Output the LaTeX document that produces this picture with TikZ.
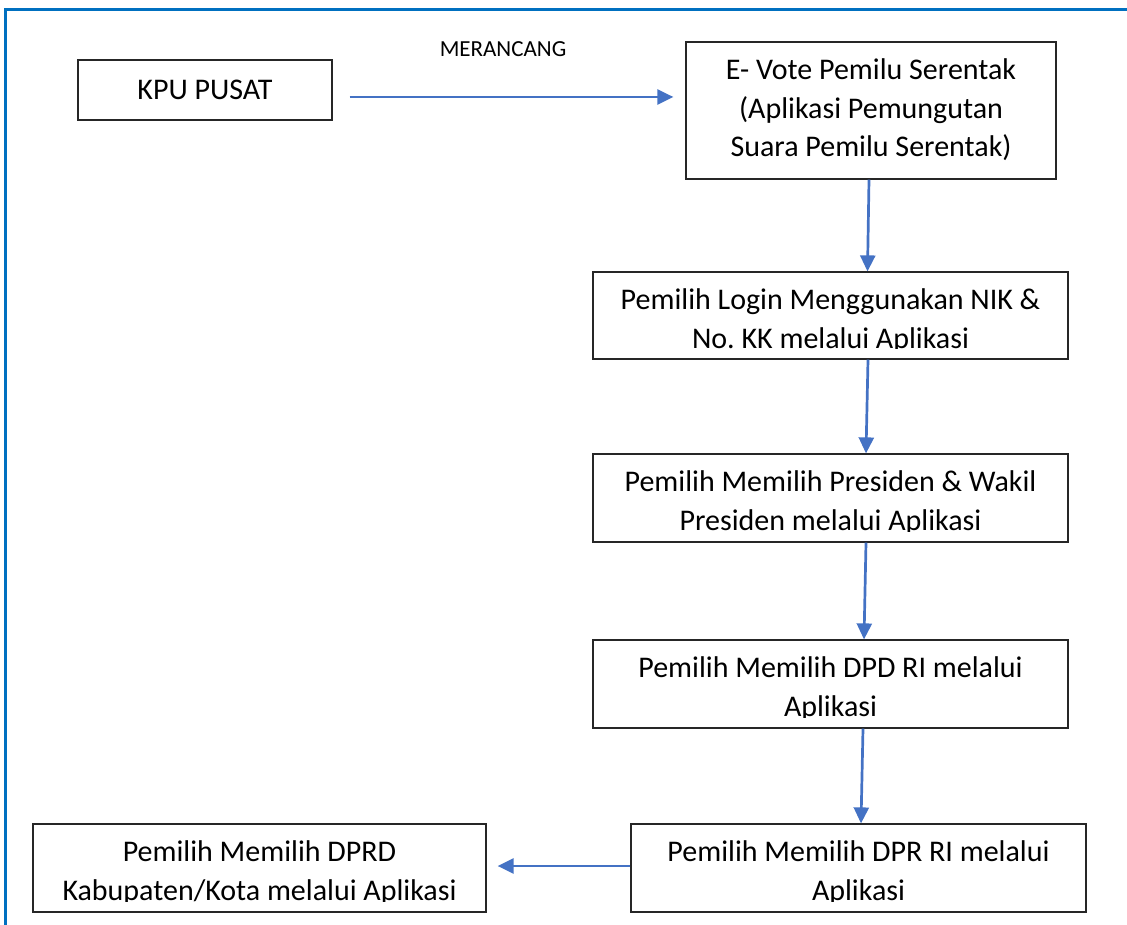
\documentclass[tikz,border=0pt]{standalone}
\usepackage{fontspec}
\setmainfont{Carlito}
\usepackage{tikz}
\usetikzlibrary{arrows.meta}

\definecolor{frameblue}{RGB}{0,112,192}
\definecolor{flowblue}{RGB}{68,114,196}

\tikzset{
  box/.style={draw=black!85, line width=1.2pt, inner sep=0pt},
  txt/.style={font=\fontsize{30}{38.5}\selectfont, text width=470pt, align=flush center, inner sep=0pt, anchor=base,
    execute at begin node={\frenchspacing\spaceskip=0pt\xspaceskip=0pt}},
  flow/.style={flowblue, line width=2.7pt, -{Triangle[length=16pt,width=15pt]}}
}

\begin{document}
\begin{tikzpicture}[x=1pt, y=-1pt]
\useasboundingbox (0,0) rectangle (1127,925);
\draw[frameblue, line width=3pt] (5,925) -- (5,10) -- (1127,10);

\node[box, minimum width=254pt, minimum height=60pt, font=\fontsize{30}{36}\selectfont] (kpu) at (205,90) {KPU PUSAT};
\node[font=\fontsize{23}{27}\selectfont, anchor=base] (merancang) at (503,57) {MERANCANG};
\node[box, minimum width=370pt, minimum height=137pt] (evote) at (871,110.5) {};
\node[box, minimum width=475pt, minimum height=87pt] (login) at (830.5,315.5) {};
\node[box, minimum width=475pt, minimum height=88pt] (presiden) at (830.5,498) {};
\node[box, minimum width=475pt, minimum height=88pt] (dpd) at (830.5,684) {};
\node[box, minimum width=455pt, minimum height=88pt] (dpr) at (858.5,868) {};
\node[box, minimum width=453pt, minimum height=88pt] (dprd) at (259.5,868) {};

\begin{scope}
\clip (evote.north west) rectangle ([yshift=11pt]evote.south east);
\node[txt] (evotetext) at ([yshift=-38.5pt]evote.north) {E- Vote Pemilu Serentak\\(Aplikasi Pemungutan\\Suara Pemilu Serentak)};
\end{scope}
\begin{scope}
\clip (login.north west) rectangle ([yshift=11pt]login.south east);
\node[txt] (logintext) at ([yshift=-38.5pt]login.north) {Pemilih Login Menggunakan NIK \&\\No. KK melalui Aplikasi};
\end{scope}
\begin{scope}
\clip (presiden.north west) rectangle ([yshift=11pt]presiden.south east);
\node[txt] (presidentext) at ([yshift=-38.5pt]presiden.north) {Pemilih Memilih Presiden \& Wakil\\Presiden melalui Aplikasi};
\end{scope}
\begin{scope}
\clip (dpd.north west) rectangle ([yshift=11pt]dpd.south east);
\node[txt] (dpdtext) at ([yshift=-38.5pt]dpd.north) {Pemilih Memilih DPD RI melalui\\Aplikasi};
\end{scope}
\begin{scope}
\clip (dpr.north west) rectangle ([yshift=11pt]dpr.south east);
\node[txt] (dprtext) at ([yshift=-38.5pt]dpr.north) {Pemilih Memilih DPR RI melalui\\Aplikasi};
\end{scope}
\begin{scope}
\clip (dprd.north west) rectangle ([yshift=11pt]dprd.south east);
\node[txt] (dprdtext) at ([yshift=-38.5pt]dprd.north) {Pemilih Memilih DPRD\\Kabupaten/Kota melalui Aplikasi};
\end{scope}

\draw[flow] ([shift={(17,7)}]kpu.east) -- ([shift={(-12,7)}]kpu.east -| evote.west);
\draw[flow] ([xshift=-2pt]evote.south) -- ([xshift=37pt]login.north);
\draw[flow] ([xshift=37.5pt]login.south) -- ([xshift=35.5pt]presiden.north);
\draw[flow] ([xshift=35.5pt]presiden.south) -- ([xshift=33.5pt]dpd.north);
\draw[flow] ([xshift=32.5pt]dpd.south) -- ([xshift=2.5pt]dpr.north);
\draw[flow] ([shift={(0,-2)}]dpr.west) -- ([shift={(11,-2)}]dprd.east);
\end{tikzpicture}
\end{document}
